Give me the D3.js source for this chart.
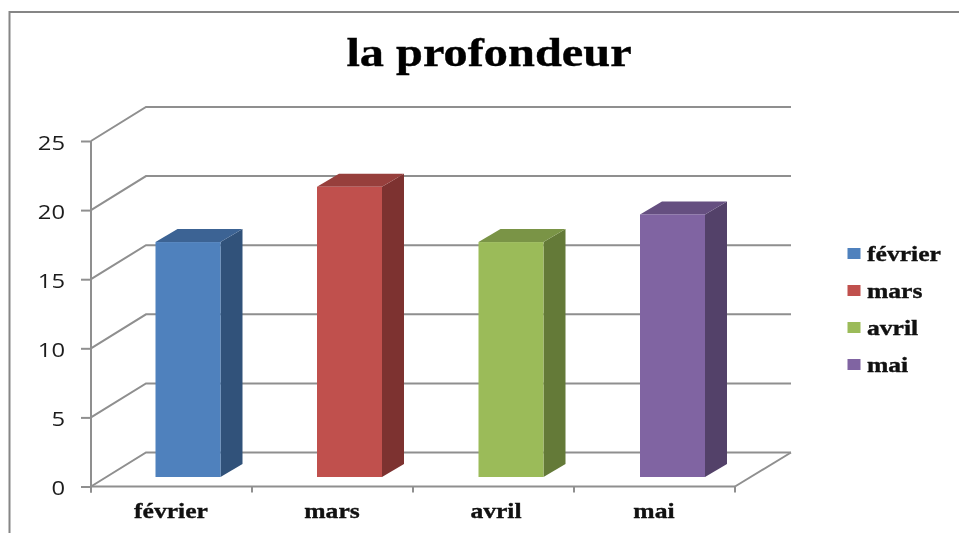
<!DOCTYPE html>
<html><head><meta charset="utf-8"><script src="https://cdn.jsdelivr.net/npm/d3@7"></script>
<style>html,body{margin:0;padding:0;background:#fff;overflow:hidden}svg{display:block}</style></head>
<body><svg id="c" width="959" height="533"></svg>
<script>
const titleText = "la profondeur";
const categories = ["février","mars","avril","mai"];
const values = [17,21,17,19];
const colors = ["#4f81bd","#c0504d","#9bbb59","#8064a2"];
const sideColors = ["#31527a","#7d3230","#647a38","#534169"];
const topColors = ["#3c6394","#973f3c","#7a9446","#654f80"];
const yTicks = [0,5,10,15,20,25];

const svg = d3.select("#c");
const root = svg.append("g").style("filter","blur(0.45px)");
const grid = "#8f8f8f";
const depthX = 55, depthY = 34, barDX = 22, barDY = 13;
const y = d3.scaleLinear().domain([0,25]).range([486.5,141]);
const x = d3.scaleBand().domain(categories).range([91,735]);
const barW = 65;
const barX = d3.scaleBand().domain(categories).range([155.5,155.5+646]);

// frame
root.append("path").attr("d","M9.5,533V12H959").attr("fill","none").attr("stroke","#868686").attr("stroke-width",2);

// walls
yTicks.forEach(t=>{
  const yy=y(t);
  root.append("path").attr("fill","none").attr("stroke",grid).attr("stroke-width",2)
    .attr("d",`M${x.range()[0]},${yy}L${x.range()[0]+depthX},${yy-depthY}H${x.range()[1]+depthX+1}`);
});
root.append("path").attr("fill","none").attr("stroke",grid).attr("stroke-width",2)
  .attr("d",`M${x.range()[1]},${y(0)}L${x.range()[1]+depthX+1},${y(0)-depthY}`);

// axes
const yAxis = d3.axisLeft(y).tickValues(yTicks).tickSize(10).tickFormat(d3.format("d"));
const ya = root.append("g").attr("transform","translate(91,0)").call(yAxis);
ya.select(".domain").attr("stroke",grid).attr("stroke-width",2).attr("d",`M0,${y(25)}V${y(0)+6}`);
ya.selectAll(".tick line").attr("stroke",grid).attr("stroke-width",2);
ya.selectAll(".tick text")
  .attr("x",null).attr("dy",null).attr("text-anchor","end")
  .attr("transform","translate(-26,8) scale(1.22,1)")
  .attr("font-family","'Open Sans',sans-serif").attr("font-size",19.5).attr("fill","#1c1c1c");

const xAxis = d3.axisBottom(x).tickValues([]).tickSize(0);
const xa = root.append("g").attr("transform",`translate(0,${y(0)})`).call(xAxis);
xa.select(".domain").attr("stroke",grid).attr("stroke-width",2).attr("d",`M${x.range()[0]},0H${x.range()[1]}`);
categories.concat(["_end"]).forEach((c,i)=>{
  const xx = i<categories.length ? x(c) : x.range()[1];
  xa.append("line").attr("x1",xx).attr("x2",xx).attr("y1",0).attr("y2",6).attr("stroke",grid).attr("stroke-width",2);
});

// bars
const base = y(0)-9.5;
const h = d3.scaleLinear().domain([0,25]).range([0,y(0)-y(25)]);
const bars = root.append("g").selectAll("g").data(categories).join("g");
bars.each(function(c,i){
  const g=d3.select(this), x0=barX(c), x1=x0+barW, top=base-h(values[i]);
  g.append("path").attr("fill",sideColors[i]).attr("d",`M${x1},${top}L${x1+barDX},${top-barDY}V${base-barDY}L${x1},${base}Z`);
  g.append("path").attr("fill",topColors[i]).attr("d",`M${x0},${top}L${x0+barDX},${top-barDY}H${x1+barDX}L${x1},${top}Z`);
  g.append("rect").attr("x",x0).attr("y",top).attr("width",barW).attr("height",base-top).attr("fill",colors[i]);
});

const bold = (sel,fs)=>sel.attr("font-family","'Liberation Serif',serif").attr("font-weight","bold").attr("font-size",fs)
  .attr("fill","#111").attr("stroke","#111").attr("stroke-width",0.35);
// category labels
categories.forEach((c,i)=>{
  bold(root.append("text").text(c),21)
    .attr("text-anchor","middle")
    .attr("transform",`translate(${[171,332,496,654][i]},518) scale(1.22,1)`);
});

// legend
const ly = d3.scalePoint().domain(categories).range([253.5,364.5]);
categories.forEach((c,i)=>{
  root.append("rect").attr("x",847.5).attr("y",ly(c)-5.5).attr("width",13).attr("height",11).attr("fill",colors[i]);
  bold(root.append("text").text(c),20)
    .attr("transform",`translate(867,${ly(c)+7}) scale(1.28,1)`);
});

// title
bold(root.append("text").text(titleText),39).attr("fill","#000").attr("stroke","#000")
  .attr("text-anchor","middle").attr("transform","translate(489,66) scale(1.24,1)");
</script></body></html>
